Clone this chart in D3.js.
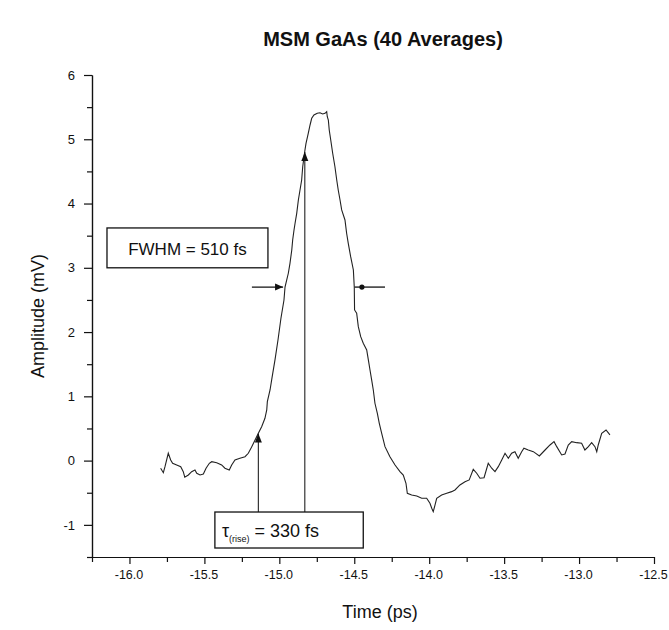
<!DOCTYPE html>
<html>
<head>
<meta charset="utf-8">
<script src="https://cdn.jsdelivr.net/npm/d3@7"></script>
<style>
  body { margin: 0; background: #fff; }
  svg { display: block; }
  text { font-family: Arial, 'Liberation Sans', sans-serif; fill: #111; }
</style>
</head>
<body>
<div id="graf"></div>
<script>
// I. Datos
tiempo = [-15.792, -15.774, -15.763, -15.741, -15.725, -15.712, -15.685, -15.658, -15.641, -15.631,
  -15.607, -15.585, -15.563, -15.551, -15.529, -15.507, -15.489, -15.467, -15.451, -15.418,
  -15.385, -15.363, -15.334, -15.318, -15.296, -15.263, -15.229, -15.207, -15.184, -15.162,
  -15.140, -15.118, -15.096, -15.084, -15.080, -15.062, -15.049, -15.029, -15.009, -14.989,
  -14.969, -14.962, -14.951, -14.940, -14.929, -14.917, -14.911, -14.902, -14.895, -14.884,
  -14.873, -14.862, -14.851, -14.844, -14.835, -14.829, -14.822, -14.807, -14.795, -14.784,
  -14.769, -14.747, -14.729, -14.711, -14.695, -14.684, -14.680, -14.673, -14.667, -14.657,
  -14.644, -14.629, -14.617, -14.607, -14.595, -14.584, -14.562, -14.551, -14.540, -14.524,
  -14.506, -14.500, -14.498, -14.484, -14.473, -14.457, -14.440, -14.417, -14.406, -14.395,
  -14.384, -14.373, -14.362, -14.346, -14.333, -14.317, -14.295, -14.262, -14.228, -14.195,
  -14.173, -14.155, -14.146, -14.117, -14.083, -14.050, -14.017, -13.995, -13.983, -13.973,
  -13.961, -13.950, -13.917, -13.883, -13.850, -13.828, -13.795, -13.761, -13.733, -13.706,
  -13.683, -13.661, -13.634, -13.606, -13.583, -13.561, -13.539, -13.516, -13.494, -13.472,
  -13.450, -13.428, -13.406, -13.383, -13.368, -13.339, -13.305, -13.265, -13.227, -13.194,
  -13.167, -13.149, -13.116, -13.094, -13.072, -13.049, -13.016, -12.983, -12.961, -12.938,
  -12.916, -12.894, -12.882, -12.872, -12.849, -12.820, -12.794]

amplitud = [-0.119, -0.188, -0.094, 0.114, 0.010, -0.042, -0.068, -0.094, -0.172, -0.259,
  -0.224, -0.172, -0.146, -0.197, -0.224, -0.208, -0.119, -0.042, -0.017, -0.032,
  -0.068, -0.119, -0.146, -0.068, 0.010, 0.036, 0.061, 0.114, 0.217, 0.321,
  0.425, 0.528, 0.659, 0.788, 0.917, 1.099, 1.286, 1.566, 1.877, 2.219,
  2.499, 2.701, 2.810, 2.915, 3.070, 3.277, 3.433, 3.588, 3.693, 3.848,
  4.055, 4.211, 4.366, 4.573, 4.729, 4.833, 4.937, 5.093, 5.222, 5.326,
  5.378, 5.404, 5.413, 5.393, 5.404, 5.429, 5.351, 5.300, 5.144, 4.989,
  4.782, 4.573, 4.366, 4.211, 4.055, 3.900, 3.744, 3.537, 3.381, 3.173,
  2.966, 2.701, 2.344, 2.292, 2.084, 1.928, 1.825, 1.721, 1.566, 1.410,
  1.255, 1.099, 0.892, 0.736, 0.581, 0.425, 0.217, 0.061, -0.068, -0.172,
  -0.224, -0.353, -0.508, -0.535, -0.550, -0.586, -0.586, -0.664, -0.742, -0.795,
  -0.690, -0.586, -0.535, -0.508, -0.483, -0.457, -0.379, -0.328, -0.301, -0.135,
  -0.197, -0.275, -0.266, -0.042, -0.119, -0.172, -0.094, 0.010, 0.114, 0.036,
  0.114, 0.139, 0.036, 0.139, 0.192, 0.165, 0.139, 0.072, 0.165, 0.243,
  0.295, 0.217, 0.088, 0.103, 0.243, 0.295, 0.279, 0.270, 0.165, 0.217,
  0.279, 0.217, 0.139, 0.243, 0.425, 0.477, 0.399]

ticksX = [-16.0, -15.5, -15.0, -14.5, -14.0, -13.5, -13.0, -12.5]
ticksXmenores = [-16.25, -15.75, -15.25, -14.75, -14.25, -13.75, -13.25, -12.75]
ticksY = [-1, 0, 1, 2, 3, 4, 5, 6]
ticksYmenores = [-1.5, -0.5, 0.5, 1.5, 2.5, 3.5, 4.5, 5.5]

// anotaciones
nivelFWHM = 2.70
flechaIzq = [-15.183, -14.975]
flechaDer = [-14.498, -14.295]
puntoDer = -14.449
subida = [{ t: -15.14, a: 0.42 }, { t: -14.83, a: 4.80 }]
cajaFWHM = { t0: -16.150, t1: -15.076, a0: 3.62, a1: 3.00 }
cajaTau = { t0: -15.43, t1: -14.44, a0: -0.80, a1: -1.36 }

// II. Configuración
ancho_total = 669
alto_total = 630

svg = d3.select('#graf').append('svg')
  .attr('width', ancho_total)
  .attr('height', alto_total)

x = d3.scaleLinear().domain([-16.25, -12.5]).range([92, 654])
y = d3.scaleLinear().domain([-1.5, 6]).range([557, 75])

// ejes
xAxisCall = d3.axisBottom(x).tickValues(ticksX).tickSize(7).tickSizeOuter(0)
  .tickFormat(d => d.toFixed(1))
xMenor = d3.axisBottom(x).tickValues(ticksXmenores).tickSize(5).tickSizeOuter(0).tickFormat('')
yAxisCall = d3.axisLeft(y).tickValues(ticksY).tickSize(8).tickSizeOuter(0)
  .tickFormat(d => String(d))
yMenor = d3.axisLeft(y).tickValues(ticksYmenores).tickSize(5).tickSizeOuter(0).tickFormat('')

xAxisGroup = svg.append('g').attr('transform', `translate(0, ${y(-1.5)})`).call(xAxisCall)
svg.append('g').attr('transform', `translate(0, ${y(-1.5)})`).call(xMenor)
yAxisGroup = svg.append('g').attr('transform', `translate(${x(-16.25)}, 0)`).call(yAxisCall)
svg.append('g').attr('transform', `translate(${x(-16.25)}, 0)`).call(yMenor)

svg.selectAll('.domain').attr('stroke', '#111').attr('stroke-width', 1.2)
svg.selectAll('.tick line').attr('stroke', '#111').attr('stroke-width', 1.2)

xAxisGroup.selectAll('text')
  .attr('y', 13)
  .attr('dx', -1)
  .style('font-size', '12.5px')
  .style('font-family', 'Arial, sans-serif')
yAxisGroup.selectAll('text')
  .attr('x', -17)
  .style('font-size', '13px')
  .style('font-family', 'Arial, sans-serif')

// curva
linea = d3.line()
  .x((d, i) => x(tiempo[i]))
  .y(d => y(d))

svg.append('path')
  .datum(amplitud)
  .attr('d', linea)
  .attr('fill', 'none')
  .attr('stroke', '#222')
  .attr('stroke-width', 1.1)

// flechas FWHM
svg.append('line')
  .attr('x1', x(flechaIzq[0])).attr('x2', x(flechaIzq[1]))
  .attr('y1', y(nivelFWHM)).attr('y2', y(nivelFWHM))
  .attr('stroke', '#111').attr('stroke-width', 1.3)
px = x(flechaIzq[1]); py = y(nivelFWHM)
svg.append('path')
  .attr('d', `M${px},${py} L${px - 8},${py - 3.5} L${px - 8},${py + 3.5} Z`)
  .attr('fill', '#111')

svg.append('line')
  .attr('x1', x(flechaDer[0])).attr('x2', x(flechaDer[1]))
  .attr('y1', y(nivelFWHM)).attr('y2', y(nivelFWHM))
  .attr('stroke', '#111').attr('stroke-width', 1.3)
svg.append('circle')
  .attr('cx', x(puntoDer)).attr('cy', y(nivelFWHM)).attr('r', 2.6)
  .attr('fill', '#111')

// líneas del tiempo de subida
subida.forEach(d => {
  svg.append('line')
    .attr('x1', x(d.t)).attr('x2', x(d.t))
    .attr('y1', y(d.a)).attr('y2', y(cajaTau.a0))
    .attr('stroke', '#222').attr('stroke-width', 1.1)
  ax = x(d.t); ay = y(d.a)
  svg.append('path')
    .attr('d', `M${ax},${ay} L${ax - 3.5},${ay + 9} L${ax + 3.5},${ay + 9} Z`)
    .attr('fill', '#111')
})

// cajas de texto
svg.append('rect')
  .attr('x', x(cajaFWHM.t0)).attr('y', y(cajaFWHM.a0))
  .attr('width', x(cajaFWHM.t1) - x(cajaFWHM.t0))
  .attr('height', y(cajaFWHM.a1) - y(cajaFWHM.a0))
  .attr('fill', '#fff').attr('stroke', '#111').attr('stroke-width', 1.3)
svg.append('text')
  .attr('x', (x(cajaFWHM.t0) + x(cajaFWHM.t1)) / 2)
  .attr('y', y(cajaFWHM.a1) - 13)
  .attr('text-anchor', 'middle')
  .style('font-size', '17px')
  .text('FWHM = 510 fs')

svg.append('rect')
  .attr('x', x(cajaTau.t0)).attr('y', y(cajaTau.a0))
  .attr('width', x(cajaTau.t1) - x(cajaTau.t0))
  .attr('height', y(cajaTau.a1) - y(cajaTau.a0))
  .attr('fill', '#fff').attr('stroke', '#111').attr('stroke-width', 1.3)
tau = svg.append('text')
  .attr('x', x(cajaTau.t0) + 7)
  .attr('y', y(cajaTau.a1) - 11)
  .style('font-size', '18px')
tau.append('tspan').text('τ')
tau.append('tspan').attr('dy', 5).style('font-size', '9px').text('(rise)')
tau.append('tspan').attr('dy', -5).text(' = 330 fs')

// títulos
svg.append('text')
  .attr('x', 383).attr('y', 46)
  .attr('text-anchor', 'middle')
  .style('font-size', '20px').style('font-weight', 'bold')
  .text('MSM GaAs (40 Averages)')

svg.append('text')
  .attr('transform', `translate(44, ${y(2.25)}) rotate(-90)`)
  .attr('text-anchor', 'middle')
  .style('font-size', '18px')
  .text('Amplitude (mV)')

svg.append('text')
  .attr('x', 380).attr('y', 618)
  .attr('text-anchor', 'middle')
  .style('font-size', '18px')
  .text('Time (ps)')
</script>
</body>
</html>
